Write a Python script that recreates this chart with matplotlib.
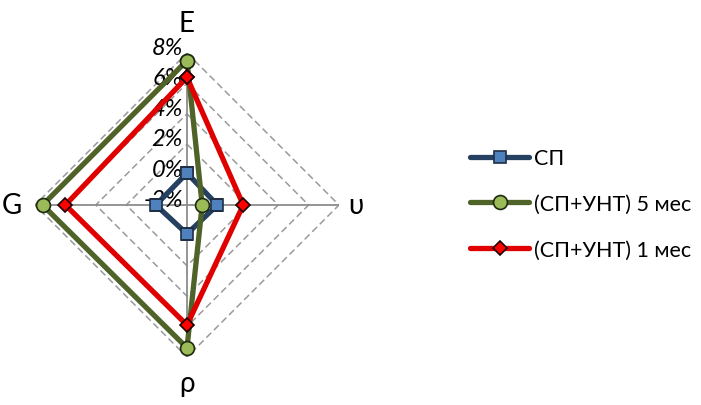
import numpy as np
import matplotlib
matplotlib.use("Agg")
import matplotlib.pyplot as plt
from matplotlib.lines import Line2D

plt.rcParams['font.family'] = ['Lato', 'DejaVu Sans']

# data (values in %)
categories = ['E', 'υ', 'ρ', 'G']
sp = [0.1, 0.0, -0.1, 0.05]
sp_cnt5 = [7.5, -1.0, 7.4, 7.5]
sp_cnt1 = [6.4, 1.7, 5.9, 6.0]
series_names = ['СП', '(СП+УНТ) 5 мес', '(СП+УНТ) 1 мес']
rticks = [-2, 0, 2, 4, 6, 8]

fig = plt.figure(figsize=(7.01, 4.06), dpi=100)
ax = fig.add_axes([0.0499, 0.1182, 0.4337, 0.7488], projection='polar')
ax.set_theta_offset(np.pi / 2)
ax.set_theta_direction(-1)
ax.set_ylim(rticks[0], rticks[-1])
ax.grid(False)
ax.spines['polar'].set_visible(False)
ax.set_xticks([])
ax.set_yticks([])
ax.patch.set_alpha(0)

angles = np.arange(len(categories)) * 2 * np.pi / len(categories)
closed = np.append(angles, angles[0])

# polygon gridlines
for r in rticks[1:]:
    ax.plot(closed, [r] * len(closed), color='#9a9a9a', lw=1.1, ls=(0, (4.5, 2.5)), zorder=1)
# spokes
for a in angles:
    ax.plot([a, a], [rticks[0], rticks[-1]], color='#8c8c8c', lw=1.3, zorder=1)

# radial tick labels
for r in rticks:
    ax.annotate('%d%%' % r, xy=(0, r), xytext=(-3, 4), textcoords='offset points',
                ha='right', va='center', fontsize=17, style='italic', zorder=2)

# category labels (distance beyond outer ring differs per label)
label_pad = [2.0, 1.1, 1.7, 1.5]
for a, c, p in zip(angles, categories, label_pad):
    ax.text(a, rticks[-1] + p, c, ha='center', va='center', fontsize=20)

styles = [
    dict(color='#254061', marker='s', mfc='#4f81bd', mec='#1f2f45', ms=8),
    dict(color='#4f6228', marker='o', mfc='#9bbb59', mec='#1e2a10', ms=10),
    dict(color='#e00000', marker='D', mfc='#ff0000', mec='#200000', ms=7.5),
]
handles = []
for vals, name, st in zip([sp, sp_cnt5, sp_cnt1], series_names, styles):
    v = np.append(vals, vals[0])
    ax.plot(closed, v, lw=3.8, mew=1.2, zorder=3, solid_joinstyle='round', **st)
    handles.append(Line2D([], [], lw=3.8, mew=1.2, label=name, solid_capstyle='round', **st))

fig.legend(handles=handles, loc='center left', bbox_to_anchor=(0.643, 0.495),
           frameon=False, fontsize=15.5, handlelength=2.75, handletextpad=0.2,
           labelspacing=1.2)

fig.savefig('out.png', dpi=100)
